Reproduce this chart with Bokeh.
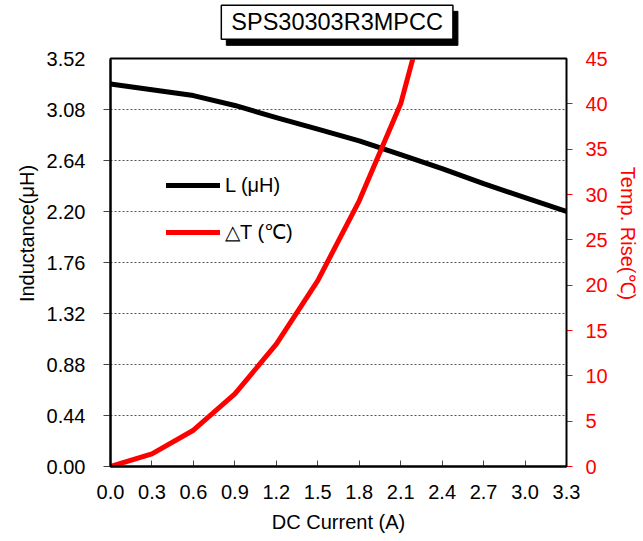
from bokeh.plotting import figure
from bokeh.models import (Range1d, LinearAxis, FixedTicker, PrintfTickFormatter,
                          Label, Legend, LegendItem)
from bokeh.embed import file_html
from bokeh.resources import INLINE

# ---- data ----
current = [0.0, 0.3, 0.6, 0.9, 1.2, 1.5, 1.8, 2.1, 2.4, 2.7, 3.0, 3.3]
inductance = [3.30, 3.25, 3.20, 3.115, 3.01, 2.91, 2.81, 2.69, 2.57, 2.44, 2.32, 2.20]
temp_current = [0.0, 0.3, 0.6, 0.9, 1.2, 1.5, 1.8, 2.1, 2.4]
temp_rise = [0.0, 1.4, 4.0, 8.0, 13.5, 20.5, 29.3, 40.0, 57.0]

x_ticks = [0.0, 0.3, 0.6, 0.9, 1.2, 1.5, 1.8, 2.1, 2.4, 2.7, 3.0, 3.3]
y_ticks = [0.00, 0.44, 0.88, 1.32, 1.76, 2.20, 2.64, 3.08, 3.52]
t_ticks = [0, 5, 10, 15, 20, 25, 30, 35, 40, 45]

title_text = "SPS30303R3MPCC"
x_label = "DC Current (A)"
y_label = "Inductance(μH)"
t_label = "Temp. Rise(℃)"
legend_L = "L (μH)"
legend_T = "△T (℃)"

FONT = "Liberation Sans"
RED = "#ff0000"

X0, X1 = x_ticks[0], x_ticks[-1]
Y0, Y1 = y_ticks[0], y_ticks[-1]
T0, T1 = t_ticks[0], t_ticks[-1]

FRAME_H = 466          # frame spans from the very top down to the x axis
PLOT_H = 408           # height of the actual chart box
ext = FRAME_H / PLOT_H  # extension factor so the title sits inside the frame

p = figure(title=None, frame_width=456, frame_height=FRAME_H,
           min_border_left=110, min_border_right=72,
           min_border_top=0, min_border_bottom=70,
           x_range=Range1d(X0, X1), y_range=Range1d(Y0, Y1 * ext),
           output_backend="svg", toolbar_location=None,
           background_fill_color="white", border_fill_color="white")
p.extra_y_ranges = {"temp": Range1d(T0, T1 * ext)}
p.outline_line_color = None

p.xgrid.grid_line_color = None
p.ygrid.ticker = FixedTicker(ticks=y_ticks)
p.ygrid.bounds = (Y0, Y1)
p.ygrid.grid_line_color = "#555555"
p.ygrid.grid_line_dash = "2 2"
p.ygrid.grid_line_width = 1

# x axis
xa = p.xaxis[0]
xa.ticker = FixedTicker(ticks=x_ticks)
xa.formatter = PrintfTickFormatter(format="%.1f")
xa.axis_label = x_label
xa.axis_line_color = "black"
xa.axis_line_width = 2
xa.major_tick_in = 6
xa.major_tick_out = 0
xa.major_tick_line_color = "#444444"
xa.minor_tick_line_color = None
xa.major_label_text_font = FONT
xa.major_label_text_font_size = "20px"
xa.major_label_text_color = "black"
xa.major_label_standoff = 18
xa.axis_label_text_font = FONT
xa.axis_label_text_font_size = "20px"
xa.axis_label_text_font_style = "normal"
xa.axis_label_text_color = "black"
xa.axis_label_standoff = 9

# left axis
ya = p.yaxis[0]
ya.ticker = FixedTicker(ticks=y_ticks)
ya.bounds = (Y0, Y1)
ya.formatter = PrintfTickFormatter(format="%.2f")
ya.axis_label = y_label
ya.axis_line_color = "black"
ya.axis_line_width = 2
ya.major_tick_in = 0
ya.major_tick_out = 7
ya.major_tick_line_color = "#444444"
ya.minor_tick_line_color = None
ya.major_label_text_font = FONT
ya.major_label_text_font_size = "20px"
ya.major_label_text_color = "black"
ya.major_label_standoff = 18
ya.axis_label_text_font = FONT
ya.axis_label_text_font_size = "20px"
ya.axis_label_text_font_style = "normal"
ya.axis_label_text_color = "black"
ya.axis_label_standoff = 6

# right axis
ra = LinearAxis(y_range_name="temp")
ra.ticker = FixedTicker(ticks=t_ticks)
ra.bounds = (T0, T1)
ra.axis_label = t_label
ra.axis_line_color = RED
ra.axis_line_width = 1
ra.major_tick_in = 0
ra.major_tick_out = 6
ra.major_tick_line_color = RED
ra.minor_tick_line_color = None
ra.major_label_text_font = FONT
ra.major_label_text_font_size = "20px"
ra.major_label_text_color = RED
ra.major_label_standoff = 13
ra.axis_label_text_font = FONT
ra.axis_label_text_font_size = "20px"
ra.axis_label_text_font_style = "normal"
ra.axis_label_text_color = RED
ra.axis_label_standoff = 6
p.add_layout(ra, "right")

# data lines
rL = p.line(current, inductance, line_color="black", line_width=5,
            line_cap="round", line_join="round")
rT = p.line(temp_current, temp_rise, y_range_name="temp", line_color=RED,
            line_width=5, line_cap="round", line_join="round")

# blank area above the chart box (hides the part of the curve above 45)
p.quad(left=X0 - 0.1, right=X1 + 0.1, bottom=Y1, top=Y1 * ext * 1.2,
       fill_color="white", line_color="white", line_width=2, level="annotation")
# chart box outline
p.quad(left=X0, right=X1, bottom=Y0, top=Y1, fill_alpha=0,
       line_color="black", line_width=2, level="annotation")

legend = Legend(items=[LegendItem(label=legend_L, renderers=[rL]),
                       LegendItem(label=legend_T, renderers=[rT])],
                location=(56, 222), orientation="vertical",
                glyph_width=54, glyph_height=24, label_height=24,
                label_standoff=5, spacing=23, padding=0, margin=0,
                background_fill_alpha=0, border_line_alpha=0,
                label_text_font=FONT, label_text_font_size="20px",
                label_text_color="black")
p.add_layout(legend, "center")

# boxed title with shadow
tx, ty = 1.64, 3.832
shadow = Label(x=tx, y=ty, x_offset=5, y_offset=-6, text=title_text,
               text_font=FONT, text_font_size="23.5px", text_color="black",
               text_align="center", text_baseline="middle",
               background_fill_color="black", border_line_color="black",
               padding=(10, 4))
title = Label(x=tx, y=ty, text=title_text,
              text_font=FONT, text_font_size="23.5px", text_color="black",
              text_align="center", text_baseline="middle",
              background_fill_color="white", border_line_color="black",
              border_line_width=1.5, padding=(10, 4))
p.add_layout(shadow)
p.add_layout(title)

open("out.html", "w").write(file_html(p, INLINE))
